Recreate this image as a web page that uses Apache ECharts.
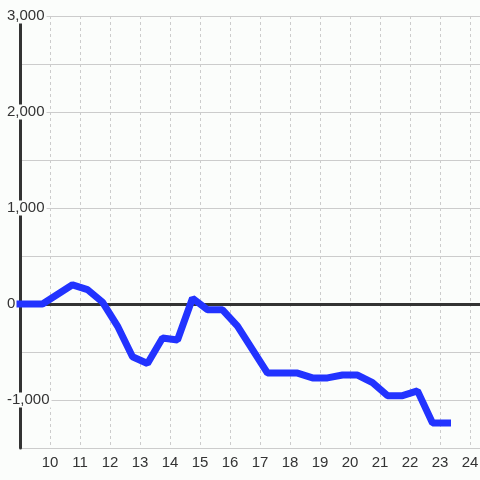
<!DOCTYPE html>
<html>
<head>
<meta charset="utf-8">
<script src="https://cdn.jsdelivr.net/npm/echarts@6/dist/echarts.min.js"></script>
<style>
  html, body { margin: 0; padding: 0; background: #fbfdfb; }
  #chart { width: 480px; height: 480px; }
</style>
</head>
<body>
<div id="chart"></div>
<script>
// hour of day and running value
const hours = [9.0, 9.75, 10.75, 11.25, 11.75, 12.25, 12.75, 13.25, 13.75, 14.25, 14.75, 15.25, 15.75, 16.25,
  17.25, 18.25, 18.75, 19.25, 19.75, 20.25, 20.75, 21.25, 21.75, 22.25, 22.75, 23.25]
const values = [0, 0, 200, 150, 20, -230, -550, -620, -355, -375, 60, -60, -60, -230,
  -720, -720, -770, -770, -740, -740, -820, -955, -955, -905, -1240, -1240]
const xMin = 9
const xMax = 24.333
const yMin = -1500
const yMax = 3000

const bg = '#fbfdfb'
const font = 'Liberation Sans, Arial, sans-serif'

const chart = echarts.init(document.getElementById('chart'))

const fmt = v => (v < 0 ? '-' : '') + Math.abs(v).toLocaleString('en-US')

chart.setOption({
  backgroundColor: bg,
  animation: false,
  grid: { left: 20, right: 0, top: 16, bottom: 32, containLabel: false, outerBoundsMode: 'none' },
  xAxis: [
    {
      type: 'value',
      min: xMin,
      max: xMax,
      interval: 1,
      axisLine: { show: false, onZero: false },
      axisTick: { show: false },
      axisLabel: {
        margin: 7,
        fontSize: 15,
        fontFamily: font,
        color: '#333',
        formatter: v => (v === xMin ? '' : String(v))
      },
      splitLine: { show: true, lineStyle: { color: '#ccc', type: [3, 3], width: 1 } }
    },
    {
      // thick line at zero
      type: 'value',
      min: xMin,
      max: xMax,
      position: 'bottom',
      axisLine: { show: true, onZero: true, lineStyle: { color: '#333', width: 3 } },
      axisTick: { show: false },
      axisLabel: { show: false },
      splitLine: { show: false },
      z: 1
    }
  ],
  yAxis: {
    type: 'value',
    min: yMin,
    max: yMax,
    interval: 500,
    axisLine: { show: true, lineStyle: { color: '#333', width: 3 } },
    axisTick: { show: false },
    splitLine: { show: true, lineStyle: { color: '#ccc', width: 1 } },
    axisLabel: {
      align: 'left',
      margin: 15,
      formatter: v => (v % 1000 === 0 ? '{a|' + fmt(v) + '}' : ''),
      rich: {
        a: {
          backgroundColor: bg,
          padding: [0, 2],
          lineHeight: 16,
          fontSize: 15,
          fontFamily: font,
          color: '#333'
        }
      }
    },
    z: 0
  },
  series: [
    {
      type: 'line',
      xAxisIndex: 0,
      data: hours.map((h, i) => [h, values[i]]),
      showSymbol: false,
      lineStyle: { color: '#2233ff', width: 7, cap: 'square' },
      z: 4
    }
  ]
})
</script>
</body>
</html>
